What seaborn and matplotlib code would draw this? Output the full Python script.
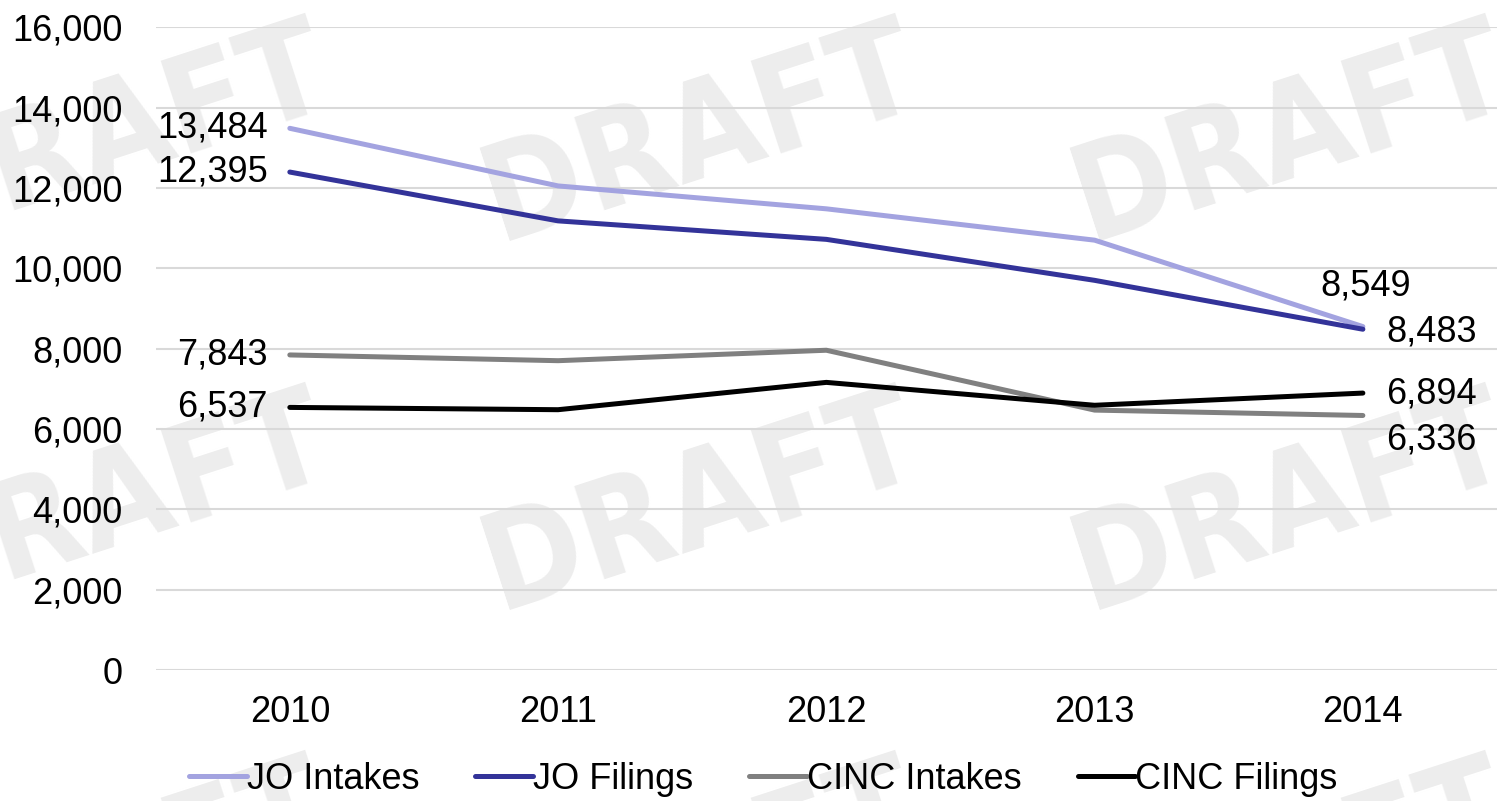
import pandas as pd
import matplotlib
matplotlib.use("Agg")
import matplotlib.pyplot as plt
import seaborn as sns

# --- data ---
years = ["2010", "2011", "2012", "2013", "2014"]
series_names = ["JO Intakes", "JO Filings", "CINC Intakes", "CINC Filings"]
jo_intakes = [13484, 12050, 11480, 10700, 8549]
jo_filings = [12395, 11180, 10720, 9700, 8483]
cinc_intakes = [7843, 7700, 7960, 6470, 6336]
cinc_filings = [6537, 6480, 7160, 6590, 6894]
y_ticks = [0, 2000, 4000, 6000, 8000, 10000, 12000, 14000, 16000]

# --- style ---
COLORS = ["#a3a3e0", "#333399", "#808080", "#000000"]
FS = 26

sns.set_theme(style="white")
plt.rcParams["font.family"] = ["Liberation Sans", "DejaVu Sans"]
plt.rcParams["text.color"] = "black"

rows = []
for name, vals in zip(series_names, [jo_intakes, jo_filings, cinc_intakes, cinc_filings]):
    for yr, v in zip(years, vals):
        rows.append({"Year": yr, "Series": name, "Value": v})
df = pd.DataFrame(rows)

fig = plt.figure(figsize=(14.97, 8.01), dpi=100)

# DRAFT watermark on a background axes
bg = fig.add_axes([0, 0, 1, 1], zorder=-5)
bg.set_xlim(0, 1)
bg.set_ylim(0, 1)
bg.axis("off")
for cx in [0.074, 0.468, 0.862]:
    for cy in [0.83, 0.37, -0.09]:
        bg.text(cx, cy, "DRAFT", fontsize=96, fontweight="bold", color="#ededed",
                rotation=18, ha="center", va="center",
                family=["DejaVu Sans"], fontstretch="condensed")

ax = fig.add_axes([0.104, 0.1635, 0.896, 0.8025], zorder=1)
ax.set_facecolor("none")

sns.lineplot(data=df, x="Year", y="Value", hue="Series", hue_order=series_names,
             palette=COLORS, linewidth=3.6, ax=ax, sort=False, legend=True)

ax.set_ylim(0, 16000)
ax.set_xlim(-0.5, len(years) - 0.5)
ax.set_yticks(y_ticks)
ax.set_yticklabels([f"{t:,}" for t in y_ticks])
ax.yaxis.grid(True, color="#d9d9d9", linewidth=1.5)
ax.set_axisbelow(True)
ax.tick_params(axis="both", labelsize=FS, length=0, colors="black")
ax.tick_params(axis="y", pad=24)
ax.tick_params(axis="x", pad=18)
ax.set_xlabel("")
ax.set_ylabel("")
for s in ax.spines.values():
    s.set_visible(False)

# data labels on first and last points
def lab(x, v, dx, dy, ha):
    ax.annotate(f"{v:,}", (x, v), xytext=(dx, dy), textcoords="offset points",
                ha=ha, va="center", fontsize=FS, color="black")

lab(0, jo_intakes[0], -16, 0, "right")
lab(0, jo_filings[0], -16, 0, "right")
lab(0, cinc_intakes[0], -16, 0, "right")
lab(0, cinc_filings[0], -16, 0, "right")
lab(4, jo_intakes[4], 2, 29, "center")
lab(4, jo_filings[4], 17, -2, "left")
lab(4, cinc_filings[4], 17, -1, "left")
lab(4, cinc_intakes[4], 17, -18, "left")

ax.legend(loc="center", bbox_to_anchor=(0.453, -0.17), ncol=4, frameon=False,
          fontsize=FS, handlelength=1.6, handletextpad=0.0, columnspacing=1.55,
          borderaxespad=0)

fig.savefig("out.png", dpi=100, facecolor="white")
